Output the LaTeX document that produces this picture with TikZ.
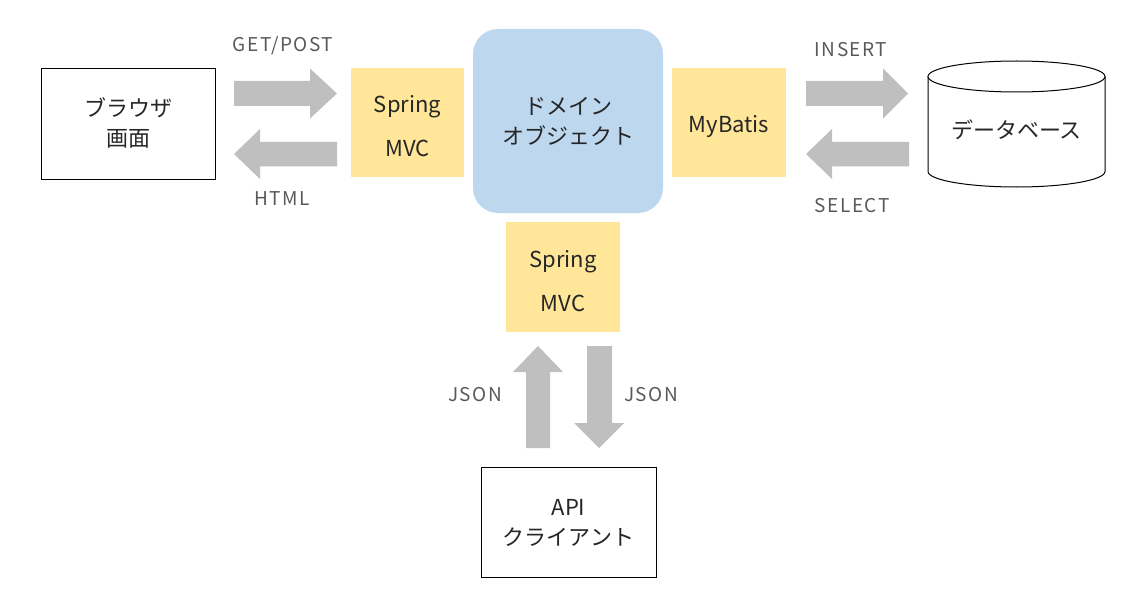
\documentclass[tikz,border=0pt]{standalone}
\usepackage{fontspec}
\setmainfont{Noto Sans CJK JP}
\newfontfamily\lblfont[LetterSpace=8]{Noto Sans CJK JP}
\definecolor{boxyellow}{HTML}{FFE699}
\definecolor{boxblue}{HTML}{BDD7EE}
\definecolor{arrowgray}{HTML}{BFBFBF}
\definecolor{labelgray}{HTML}{595959}
\definecolor{maintext}{HTML}{262626}
\tikzset{
  box/.style={draw=black, line width=1pt, fill=white, inner sep=0pt},
  ybox/.style={fill=boxyellow, inner sep=0pt},
  dombox/.style={fill=boxblue, rounded corners=25pt, inner sep=0pt},
  txt/.style={inner sep=0pt, align=center, text=maintext, font=\fontsize{22}{30}\selectfont},
  mvctxt/.style={inner sep=0pt, align=center, text=maintext, font=\fontsize{22}{44}\selectfont},
  lbl/.style={text=labelgray, inner sep=0pt, font=\lblfont\fontsize{19}{20}\selectfont},
  blockarrow/.style={fill=arrowgray},
  cyl/.style={draw=black, line width=1pt, fill=white}
}
\begin{document}
\begin{tikzpicture}[x=1pt,y=-1pt]
\useasboundingbox (0,0) rectangle (1130,599);
% boxes
\node[box, minimum width=174pt, minimum height=110pt] (browser) at (128,124) {};
\node[txt] (browsert) at (128,123) {ブラウザ\\画面};
\node[ybox, minimum width=113pt, minimum height=109pt] (spring1) at (407.5,122.5) {};
\node[mvctxt] (spring1t) at (407.5,126) {Spring\\MVC};
\node[dombox, minimum width=190pt, minimum height=184pt] (domain) at (568,121) {};
\node[txt] (domaint) at (568,121) {ドメイン\\オブジェクト};
\node[ybox, minimum width=114pt, minimum height=109pt] (mybatis) at (729,122.5) {};
\node[txt] (mybatist) at (729,127) {MyBatis};
\node[ybox, minimum width=114pt, minimum height=110pt] (spring2) at (563,277) {};
\node[mvctxt] (spring2t) at (563,281) {Spring\\MVC};
\node[box, minimum width=175pt, minimum height=110pt] (api) at (568.5,522) {};
\node[txt] (apit) at (568.5,523) {API\\クライアント};
% database cylinder
\draw[cyl] (928,76.5) -- (928,171.5) arc[start angle=180, end angle=360, x radius=88.5pt, y radius=15.5pt] -- (1105,76.5);
\draw[cyl] (1016.5,76.5) ellipse [x radius=88.5pt, y radius=15.5pt];
\node[txt] (db) at (1016.5,130) {データベース};
% block arrows
\fill[blockarrow] (234,81) -- (310,81) -- (310,68.5) -- (337,93.5) -- (310,118.5) -- (310,106) -- (234,106) -- cycle;
\fill[blockarrow] (337,142) -- (260,142) -- (260,129) -- (234,154) -- (260,179) -- (260,166.5) -- (337,166.5) -- cycle;
\fill[blockarrow] (806,81) -- (883,81) -- (883,68.5) -- (908,93.5) -- (883,118.5) -- (883,106) -- (806,106) -- cycle;
\fill[blockarrow] (909,142) -- (832,142) -- (832,129) -- (806,154) -- (832,179) -- (832,166.5) -- (909,166.5) -- cycle;
\fill[blockarrow] (526,448) -- (526,372) -- (513,372) -- (538,346) -- (563,372) -- (550,372) -- (550,448) -- cycle;
\fill[blockarrow] (587,346) -- (587,423) -- (574,423) -- (599,448) -- (624,423) -- (612,423) -- (612,346) -- cycle;
% labels
\node[lbl] (lget) at (283,46) {GET/POST};
\node[lbl] (lhtml) at (282,199) {HTML};
\node[lbl] (lins) at (851,50) {INSERT};
\node[lbl] (lsel) at (852,206) {SELECT};
\node[lbl] (ljson1) at (475,395) {JSON};
\node[lbl] (ljson2) at (651,395) {JSON};
\end{tikzpicture}
\end{document}
